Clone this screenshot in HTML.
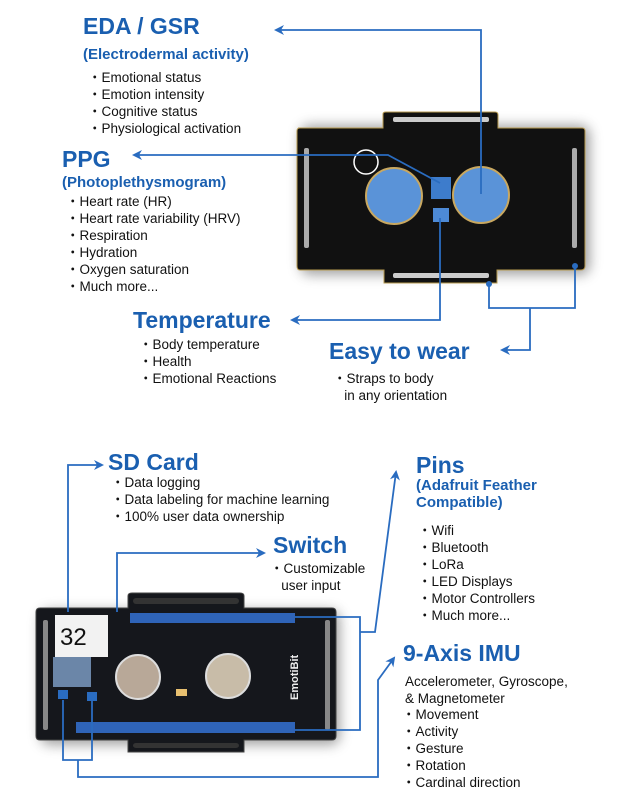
<!DOCTYPE html>
<html><head><style>
body{margin:0;width:636px;height:809px;background:#fff;position:relative;overflow:hidden;font-family:"Liberation Sans",sans-serif}
.t{position:absolute;white-space:nowrap}
.h{color:#1a5fb0;font-weight:bold;font-size:23px}
.s{color:#1a5fb0;font-weight:bold;font-size:15px;line-height:17px}
.b{color:#111;font-size:13.5px;line-height:17px}
</style></head><body>
<svg width="636" height="809" style="position:absolute;left:0;top:0">
<defs><marker id="a" markerWidth="10" markerHeight="10" refX="8" refY="5" orient="auto" markerUnits="userSpaceOnUse"><path d="M0,0 L10,5 L0,10 L3,5Z" fill="#2a6cc0"/></marker>
<filter id="sh" x="-20%" y="-20%" width="140%" height="140%"><feGaussianBlur stdDeviation="6"/></filter></defs>
<!-- top board -->
<rect x="300" y="125" width="290" height="150" rx="10" fill="#666" filter="url(#sh)" opacity=".6"/>
<path d="M298,128 H383 V114 Q383,112 386,112 H495 Q498,112 498,115 V128 H582 Q585,128 585,131 V266 Q585,270 581,270 H497 V283 H384 V270 H300 Q297,270 297,266 V131 Q297,128 300,128Z" fill="#111" stroke="#b89a50" stroke-width="1"/>
<rect x="393" y="117" width="96" height="5" rx="2" fill="#ccc"/>
<rect x="393" y="273" width="96" height="5" rx="2" fill="#ccc"/>
<rect x="304" y="148" width="5" height="100" rx="2" fill="#aaa"/>
<rect x="572" y="148" width="5" height="100" rx="2" fill="#aaa"/>
<circle cx="394" cy="196" r="28" fill="#5a93d8" stroke="#c9a860" stroke-width="2"/>
<circle cx="481" cy="195" r="28" fill="#5a93d8" stroke="#c9a860" stroke-width="2"/>
<circle cx="366" cy="162" r="12" fill="none" stroke="#fff" stroke-width="1.5"/>
<rect x="431" y="177" width="20" height="22" fill="#3d7ccc"/>
<rect x="433" y="208" width="16" height="14" fill="#4d8ad6"/>
<!-- bottom board -->
<rect x="40" y="610" width="300" height="135" rx="10" fill="#666" filter="url(#sh)" opacity=".6"/>
<path d="M40,608 H128 V596 Q128,593 132,593 H240 Q244,593 244,596 V608 H332 Q336,608 336,612 V736 Q336,740 332,740 H244 V752 H128 V740 H40 Q36,740 36,736 V612 Q36,608 40,608Z" fill="#15171c" stroke="#444"/>
<rect x="133" y="598" width="106" height="6" rx="3" fill="#333"/>
<rect x="133" y="743" width="106" height="5" rx="3" fill="#333"/>
<rect x="43" y="620" width="5" height="110" rx="2" fill="#888"/>
<rect x="325" y="620" width="5" height="110" rx="2" fill="#888"/>
<rect x="130" y="613" width="165" height="10" fill="#2f64b8"/>
<rect x="76" y="722" width="219" height="11" fill="#2f64b8"/>
<rect x="55" y="615" width="53" height="42" fill="#f2f2f2"/>
<text x="60" y="645" font-size="24" font-family="Liberation Sans" fill="#111">32</text>
<rect x="53" y="657" width="38" height="30" fill="#6b86a8"/>
<circle cx="138" cy="677" r="22" fill="#b8a898" stroke="#ddd" stroke-width="2"/>
<circle cx="228" cy="676" r="22" fill="#c8bca8" stroke="#ddd" stroke-width="2"/>
<rect x="176" y="689" width="11" height="7" fill="#e8c070"/>
<text x="298" y="700" font-size="11" fill="#eee" transform="rotate(-90 298 700)" font-weight="bold">EmotiBit</text>
<rect x="58" y="690" width="10" height="9" fill="#2a6cc0"/>
<rect x="87" y="692" width="10" height="9" fill="#2a6cc0"/>
<g stroke="#2a6cc0" stroke-width="1.8" fill="none">
<path d="M481,194 V30 H276" marker-end="url(#a)"/>
<path d="M440,183 L388,155 H134" marker-end="url(#a)"/>
<path d="M440,218 V320 H292" marker-end="url(#a)"/>
<path d="M489,284 V308 H575 V266 M530,308 V350 H502" marker-end="url(#a)"/>
<path d="M68,612 V465 H102" marker-end="url(#a)"/>
<path d="M117,612 V553 H264" marker-end="url(#a)"/>
<path d="M295,617 H360 V730 H295 M360,632 H375 L396,472" marker-end="url(#a)"/>
<path d="M63,700 V760 H92 V700 M78,760 V777 H378 V680 L394,658" marker-end="url(#a)"/>
</g>
<circle cx="489" cy="284" r="3" fill="#2a6cc0"/><circle cx="575" cy="266" r="3" fill="#2a6cc0"/>
</svg>
<div class="t h" style="left:83px;top:13px">EDA / GSR</div>
<div class="t s" style="left:83px;top:46px">(Electrodermal activity)</div>
<div class="t b" style="left:88px;top:69px">・Emotional status<br>・Emotion intensity<br>・Cognitive status<br>・Physiological activation</div>
<div class="t h" style="left:62px;top:146px">PPG</div>
<div class="t s" style="left:62px;top:174px">(Photoplethysmogram)</div>
<div class="t b" style="left:66px;top:193px">・Heart rate (HR)<br>・Heart rate variability (HRV)<br>・Respiration<br>・Hydration<br>・Oxygen saturation<br>・Much more...</div>
<div class="t h" style="left:133px;top:307px">Temperature</div>
<div class="t b" style="left:139px;top:336px">・Body temperature<br>・Health<br>・Emotional Reactions</div>
<div class="t h" style="left:329px;top:338px">Easy to wear</div>
<div class="t b" style="left:333px;top:370px">・Straps to body<br>&nbsp;&nbsp;&nbsp;in any orientation</div>
<div class="t h" style="left:108px;top:449px">SD Card</div>
<div class="t b" style="left:111px;top:474px">・Data logging<br>・Data labeling for machine learning<br>・100% user data ownership</div>
<div class="t h" style="left:273px;top:532px">Switch</div>
<div class="t b" style="left:270px;top:560px">・Customizable<br>&nbsp;&nbsp;&nbsp;user input</div>
<div class="t h" style="left:416px;top:452px">Pins</div>
<div class="t s" style="left:416px;top:477px">(Adafruit Feather<br>Compatible)</div>
<div class="t b" style="left:418px;top:522px">・Wifi<br>・Bluetooth<br>・LoRa<br>・LED Displays<br>・Motor Controllers<br>・Much more...</div>
<div class="t h" style="left:403px;top:640px">9-Axis IMU</div>
<div class="t b" style="left:405px;top:673px">Accelerometer, Gyroscope,<br>&amp; Magnetometer</div>
<div class="t b" style="left:402px;top:706px">・Movement<br>・Activity<br>・Gesture<br>・Rotation<br>・Cardinal direction</div>
</body></html>
